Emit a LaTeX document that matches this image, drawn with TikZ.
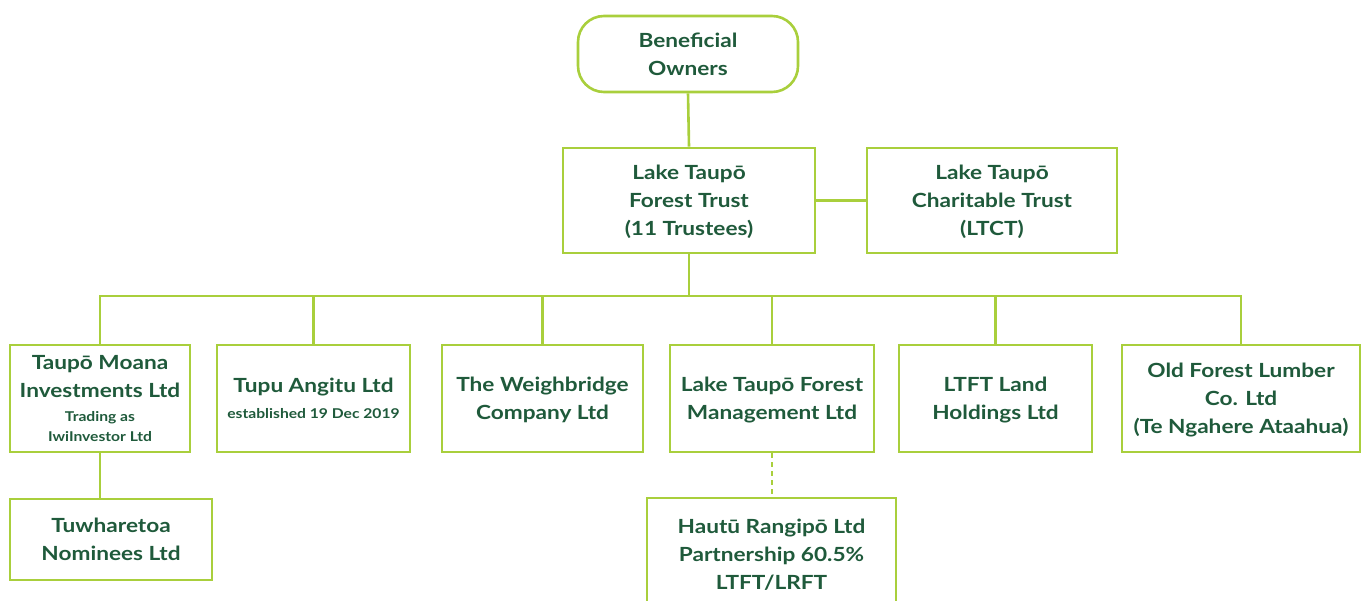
\documentclass[tikz,border=0pt]{standalone}
\usepackage{fontspec}
\setmainfont{Lato}[FakeStretch=1.16]
\definecolor{lime}{HTML}{A9CF3C}
\definecolor{ink}{HTML}{1F5A3B}
\begin{document}
\begin{tikzpicture}[x=1pt,y=-1pt,
  box/.style={draw=lime, line width=2.6pt, fill=white, align=center, text=ink,
    font=\fontsize{19.5}{27.8}\selectfont\bfseries, inner sep=0pt, text depth=0pt},
  link/.style={draw=lime, line width=2.6pt}]
\useasboundingbox (0,0) rectangle (1362,601);
\newcommand{\sm}{\fontsize{13.5}{20}\selectfont}
% top of the tree
\node[box, rounded corners=26pt, minimum width=220, minimum height=76] (bo) at (688,54) {Beneficial\\Owners};
\node[box, minimum width=252, minimum height=105] (ltft) at (689,200.5) {Lake Taupō\\Forest Trust\\(11 Trustees)};
\node[box, minimum width=250, minimum height=105] (ltct) at (992,200.5) {Lake Taupō\\Charitable Trust\\(LTCT)};
% subsidiaries
\node[box, minimum width=180, minimum height=107] (tmi) at (100,398.5) {Taupō Moana\\Investments Ltd\\[-4pt]{\sm Trading as}\\[-8pt]{\sm IwiInvestor Ltd}};
\node[box, minimum width=193, minimum height=107] (tal) at (313.5,398.5) {Tupu Angitu Ltd\\[-2pt]{\sm established 19 Dec 2019}};
\node[box, minimum width=201, minimum height=107] (twb) at (542.5,398.5) {The Weighbridge\\Company Ltd};
\node[box, minimum width=204, minimum height=107] (ltfm) at (772,398.5) {Lake Taupō Forest\\Management Ltd};
\node[box, minimum width=193, minimum height=107] (land) at (995.5,398.5) {LTFT Land\\Holdings Ltd};
\node[box, minimum width=238, minimum height=107] (ofl) at (1241,398.5) {Old Forest Lumber\\Co. Ltd\\(Te Ngahere Ataahua)};
% third level
\node[box, minimum width=202, minimum height=81] (tnl) at (111,539.5) {Tuwharetoa\\Nominees Ltd};
\node[box, minimum width=249, minimum height=112] (hrl) at (771.5,554) {Hautū Rangipō Ltd\\Partnership 60.5\%\\LTFT/LRFT};
% connectors
\coordinate (bus) at (689,296);
\draw[link] (bo.south) -- (ltft.north);
\draw[link] (ltft.east) -- (ltct.west);
\draw[link] (ltft.south) -- (bus);
\draw[link] (tmi.north) |- (bus) -| (ofl.north);
\draw[link] (bus) -| (tal.north);
\draw[link] (bus) -| (twb.north);
\draw[link] (bus) -| (ltfm.north);
\draw[link] (bus) -| (land.north);
\draw[link] (tmi.south) -- (tmi.south |- tnl.north);
\draw[link, line width=2pt, dash pattern=on 5pt off 4pt] (ltfm.south) -- (ltfm.south |- hrl.north);
\end{tikzpicture}
\end{document}
